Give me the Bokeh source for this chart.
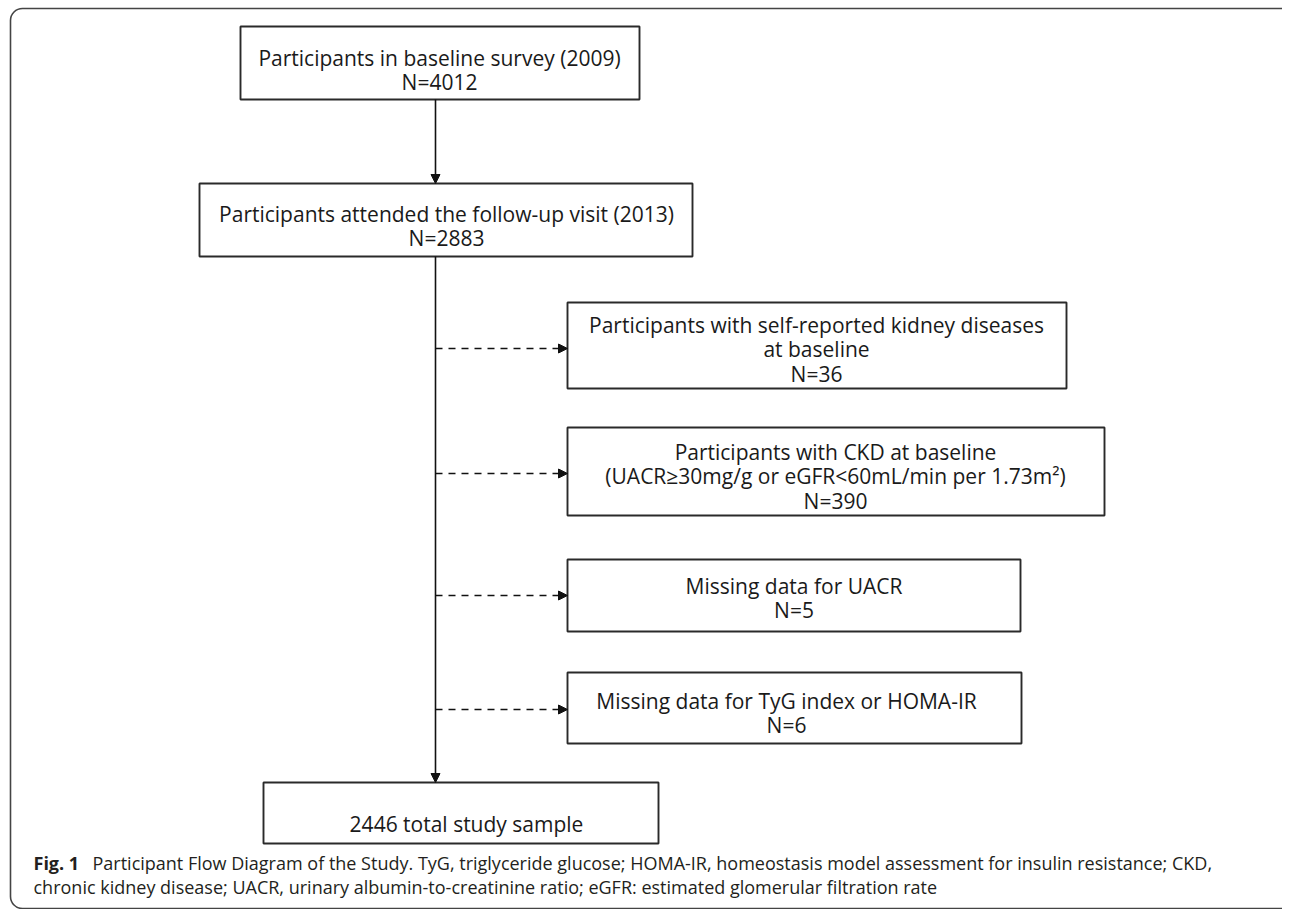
from bokeh.plotting import figure
from bokeh.models import Range1d, Arrow, NormalHead, ColumnDataSource
from bokeh.embed import file_html
from bokeh.resources import INLINE
from bokeh.core.properties import value

# ---------------- data ----------------
main_steps = ["Participants in baseline survey (2009)",
              "Participants attended the follow-up visit (2013)"]
main_counts = [4012, 2883]
exclusion_labels = [
    ["Participants with self-reported kidney diseases", "at baseline"],
    ["Participants with CKD at baseline", "(UACR\u226530mg/g or eGFR<60mL/min per 1.73m\u00b2)"],
    ["Missing data for UACR"],
    ["Missing data for TyG index or HOMA-IR"],
]
exclusion_counts = [36, 390, 5, 6]
final_count = 2446
final_label = "total study sample"
caption_bold = "Fig. 1"
caption_line1 = ("Participant Flow Diagram of the Study. TyG, triglyceride glucose; HOMA-IR, "
                 "homeostasis model assessment for insulin resistance; CKD,")
caption_line2 = ("chronic kidney disease; UACR, urinary albumin-to-creatinine ratio; eGFR: "
                 "estimated glomerular filtration rate")

# ---------------- layout (pixels) ----------------
W, H = 1282, 909
BOX_FONT = "Open Sans"
BOX_SIZE = "21px"
CAP_FONT = "Open Sans"
CAP_SIZE = "18px"
LINE_GAP = 24.5
TDY = -7  # baseline correction for text rendering

main_boxes = [(240, 639, 26, 99), (199, 692, 183, 256)]
main_cx = [439, 446]
main_base = [64, 220]
excl_boxes = [(567, 1066, 302, 388), (567, 1104, 427, 515),
              (567, 1020, 559, 631), (567, 1021, 672, 743)]
excl_cx = [816, 835, 793.5, 786]
excl_base = [331, 458, 592, 707]
excl_arrow_y = [348, 473, 595, 709]
final_box = (263, 658, 782, 843)
final_cx, final_base = 466, 830
spine_x = 435
frame = (10, 1298, 8, 908)
cap_x0, cap_x1 = 33, 92
cap_base = [869, 893]

p = figure(width=W, height=H, output_backend="svg", toolbar_location=None,
           x_range=Range1d(0, W), y_range=Range1d(H, 0), min_border=0,
           background_fill_color="white", border_fill_color="white")
p.axis.visible = False
p.grid.visible = False
p.outline_line_color = None

# outer frame
p.quad(left=[frame[0]], right=[frame[1]], top=[frame[2]], bottom=[frame[3]],
       fill_color=None, line_color="#444444", line_width=1.6, border_radius=12)

# boxes
all_boxes = main_boxes + excl_boxes + [final_box]
p.quad(left=[b[0] for b in all_boxes], right=[b[1] for b in all_boxes],
       top=[b[2] for b in all_boxes], bottom=[b[3] for b in all_boxes],
       fill_color="white", line_color="#2a2a2a", line_width=1.9)

# texts
tx, ty, tt = [], [], []
for i, step in enumerate(main_steps):
    tx += [main_cx[i]] * 2
    ty += [main_base[i] + TDY, main_base[i] + LINE_GAP + TDY]
    tt += [step, f"N={main_counts[i]}"]
for i, lines in enumerate(exclusion_labels):
    allines = lines + [f"N={exclusion_counts[i]}"]
    for j, ln in enumerate(allines):
        tx.append(excl_cx[i])
        ty.append(excl_base[i] + j * LINE_GAP + TDY)
        tt.append(ln)
tx.append(final_cx); ty.append(final_base + TDY); tt.append(f"{final_count} {final_label}")

src = ColumnDataSource(dict(x=tx, y=ty, text=tt))
p.text(x="x", y="y", text="text", source=src, text_align="center",
       text_baseline="alphabetic", text_font=value(BOX_FONT), text_font_size=BOX_SIZE,
       text_color="#1a1a1a")

# arrows
head = dict(size=9, fill_color="#111111", line_color="#111111", line_width=1)
p.add_layout(Arrow(end=NormalHead(**head), x_start=spine_x, y_start=main_boxes[0][3],
                   x_end=spine_x, y_end=main_boxes[1][2], line_width=1.6, line_color="#111111"))
p.add_layout(Arrow(end=NormalHead(**head), x_start=spine_x, y_start=main_boxes[1][3],
                   x_end=spine_x, y_end=final_box[2], line_width=1.6, line_color="#111111"))
for i, yy in enumerate(excl_arrow_y):
    p.add_layout(Arrow(end=NormalHead(**head), x_start=spine_x, y_start=yy,
                       x_end=excl_boxes[i][0], y_end=yy, line_width=1.5,
                       line_color="#111111", line_dash="7 6"))

# caption
p.text(x=[cap_x0], y=[cap_base[0] + TDY], text=[caption_bold], text_font=value(CAP_FONT),
       text_font_size=CAP_SIZE, text_font_style="bold", text_color="#231f20",
       text_baseline="alphabetic")
p.text(x=[cap_x1, cap_x0], y=[cap_base[0] + TDY, cap_base[1] + TDY],
       text=[caption_line1, caption_line2],
       text_font=value(CAP_FONT), text_font_size=CAP_SIZE, text_color="#231f20",
       text_baseline="alphabetic")

open("out.html", "w").write(file_html(p, INLINE))
